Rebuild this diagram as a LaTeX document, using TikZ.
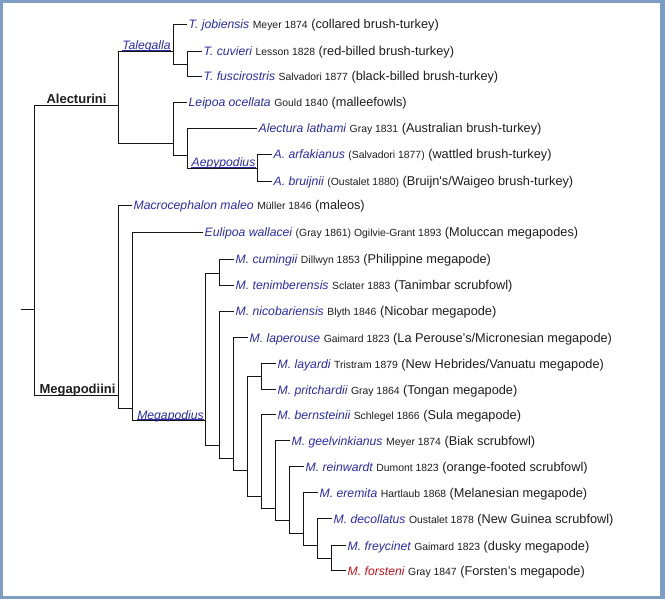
\documentclass[tikz,border=0pt]{standalone}
\usepackage{fontspec}
\setmainfont{Liberation Sans}
\definecolor{framecol}{RGB}{125,157,194}
\definecolor{spblue}{RGB}{45,45,160}
\definecolor{spred}{RGB}{195,20,30}
\definecolor{txt}{RGB}{30,30,30}
\definecolor{linecol}{RGB}{20,20,20}
\newcommand\spn[1]{{\color{spblue}\fontsize{12.2}{15}\selectfont\itshape #1}}
\newcommand\spr[1]{{\color{spred}\fontsize{12.2}{15}\selectfont\itshape #1}}
\newcommand\aut[1]{{\fontsize{10.4}{12}\selectfont #1}}
\tikzset{
  branch/.style={draw=linecol, line width=1pt},
  leaf/.style={anchor=base west, inner sep=0pt, xshift=2pt, yshift=-4.5pt,
    font=\fontsize{12.75}{15}\selectfont, text=txt},
  tribe/.style={anchor=base, inner sep=0pt, font=\fontsize{13}{15}\selectfont\bfseries, text=txt},
  clade/.style={anchor=base, inner sep=0pt, font=\fontsize{12.2}{15}\selectfont\itshape, text=spblue},
  uline/.style={draw=spblue, line width=0.8pt}
}
\begin{document}
\begin{tikzpicture}[x=1pt,y=-1pt]
\useasboundingbox (0,0) rectangle (665,599);
\fill[framecol] (0,0) rectangle (665,599);
\fill[white] (3,3) rectangle (660,596);
\begin{scope}[shift={(0.5,0.5)}]
% internal junctions
\coordinate (stub) at (20,309);
\coordinate (R) at (34,309);
\coordinate (A) at (118,105);
\coordinate (T) at (173,51);
\coordinate (TC) at (187,64);
\coordinate (L) at (173,143);
\coordinate (AL) at (187,155);
\coordinate (Aep) at (257,168);
\coordinate (M) at (118,395);
\coordinate (N2) at (132,408);
\coordinate (Mg) at (205,420);
\coordinate (C1) at (219,273);
\coordinate (N3) at (219,445);
\coordinate (N4) at (233,458);
\coordinate (N5) at (247,470);
\coordinate (LP) at (261,376);
\coordinate (N6) at (261,496);
\coordinate (N7) at (275,508);
\coordinate (N8) at (289,520);
\coordinate (N9) at (303,533);
\coordinate (N10) at (317,545);
\coordinate (N11) at (331,558);
% tips
\coordinate (t1) at (186,24);
\coordinate (t2) at (201,51);
\coordinate (t3) at (201,76);
\coordinate (t4) at (186,102);
\coordinate (t5) at (256,128);
\coordinate (t6) at (271,154);
\coordinate (t7) at (271,181);
\coordinate (t8) at (131,205);
\coordinate (t9) at (202,232);
\coordinate (t10) at (233,259);
\coordinate (t11) at (233,285);
\coordinate (t12) at (233,311);
\coordinate (t13) at (247,337);
\coordinate (t14) at (275,363);
\coordinate (t15) at (275,389);
\coordinate (t16) at (275,414);
\coordinate (t17) at (289,440);
\coordinate (t18) at (303,466);
\coordinate (t19) at (317,492);
\coordinate (t20) at (331,518);
\coordinate (t21) at (345,545);
\coordinate (t22) at (345,570);
% branches
\draw[branch] (stub) -- (R);
\draw[branch] (R) |- (A);
\draw[branch] (R) |- (M);
\draw[branch] (A) |- (T);
\draw[branch] (A) |- (L);
\draw[branch] (T) |- (t1);
\draw[branch] (T) |- (TC);
\draw[branch] (TC) |- (t2);
\draw[branch] (TC) |- (t3);
\draw[branch] (L) |- (t4);
\draw[branch] (L) |- (AL);
\draw[branch] (AL) |- (t5);
\draw[branch] (AL) |- (Aep);
\draw[branch] (Aep) |- (t6);
\draw[branch] (Aep) |- (t7);
\draw[branch] (M) |- (t8);
\draw[branch] (M) |- (N2);
\draw[branch] (N2) |- (t9);
\draw[branch] (N2) |- (Mg);
\draw[branch] (Mg) |- (C1);
\draw[branch] (Mg) |- (N3);
\draw[branch] (C1) |- (t10);
\draw[branch] (C1) |- (t11);
\draw[branch] (N3) |- (t12);
\draw[branch] (N3) |- (N4);
\draw[branch] (N4) |- (t13);
\draw[branch] (N4) |- (N5);
\draw[branch] (N5) |- (LP);
\draw[branch] (N5) |- (N6);
\draw[branch] (LP) |- (t14);
\draw[branch] (LP) |- (t15);
\draw[branch] (N6) |- (t16);
\draw[branch] (N6) |- (N7);
\draw[branch] (N7) |- (t17);
\draw[branch] (N7) |- (N8);
\draw[branch] (N8) |- (t18);
\draw[branch] (N8) |- (N9);
\draw[branch] (N9) |- (t19);
\draw[branch] (N9) |- (N10);
\draw[branch] (N10) |- (t20);
\draw[branch] (N10) |- (N11);
\draw[branch] (N11) |- (t21);
\draw[branch] (N11) |- (t22);
% group labels
\node[tribe] (alec) at (76,103) {Alecturini};
\node[tribe] (mega) at (77,393) {Megapodiini};
\node[clade] (tal) at (146,49.5) {Talegalla};
\node[clade] (aep) at (223,166.5) {Aepypodius};
\node[clade] (meg) at (170,418.5) {Megapodius};
\foreach \n in {tal,aep,meg}
  \draw[uline] ([yshift=-0.8pt]\n.base west) -- ([yshift=-0.8pt]\n.base east);
% leaves
\node[leaf] (l1) at (t1) {\spn{T. jobiensis} \aut{Meyer 1874} (collared brush-turkey)};
\node[leaf] (l2) at (t2) {\spn{T. cuvieri} \aut{Lesson 1828} (red-billed brush-turkey)};
\node[leaf] (l3) at (t3) {\spn{T. fuscirostris} \aut{Salvadori 1877} (black-billed brush-turkey)};
\node[leaf] (l4) at (t4) {\spn{Leipoa ocellata} \aut{Gould 1840} (malleefowls)};
\node[leaf] (l5) at (t5) {\spn{Alectura lathami} \aut{Gray 1831} (Australian brush-turkey)};
\node[leaf] (l6) at (t6) {\spn{A. arfakianus} \aut{(Salvadori 1877)} (wattled brush-turkey)};
\node[leaf] (l7) at (t7) {\spn{A. bruijnii} \aut{(Oustalet 1880)} (Bruijn\textquotesingle s/Waigeo brush-turkey)};
\node[leaf] (l8) at (t8) {\spn{Macrocephalon maleo} \aut{Müller 1846} (maleos)};
\node[leaf] (l9) at (t9) {\spn{Eulipoa wallacei} \aut{(Gray 1861) Ogilvie-Grant 1893} (Moluccan megapodes)};
\node[leaf] (l10) at (t10) {\spn{M. cumingii} \aut{Dillwyn 1853} (Philippine megapode)};
\node[leaf] (l11) at (t11) {\spn{M. tenimberensis} \aut{Sclater 1883} (Tanimbar scrubfowl)};
\node[leaf] (l12) at (t12) {\spn{M. nicobariensis} \aut{Blyth 1846} (Nicobar megapode)};
\node[leaf] (l13) at (t13) {\spn{M. laperouse} \aut{Gaimard 1823} (La Perouse’s/Micronesian megapode)};
\node[leaf] (l14) at (t14) {\spn{M. layardi} \aut{Tristram 1879} (New Hebrides/Vanuatu megapode)};
\node[leaf] (l15) at (t15) {\spn{M. pritchardii} \aut{Gray 1864} (Tongan megapode)};
\node[leaf] (l16) at (t16) {\spn{M. bernsteinii} \aut{Schlegel 1866} (Sula megapode)};
\node[leaf] (l17) at (t17) {\spn{M. geelvinkianus} \aut{Meyer 1874} (Biak scrubfowl)};
\node[leaf] (l18) at (t18) {\spn{M. reinwardt} \aut{Dumont 1823} (orange-footed scrubfowl)};
\node[leaf] (l19) at (t19) {\spn{M. eremita} \aut{Hartlaub 1868} (Melanesian megapode)};
\node[leaf] (l20) at (t20) {\spn{M. decollatus} \aut{Oustalet 1878} (New Guinea scrubfowl)};
\node[leaf] (l21) at (t21) {\spn{M. freycinet} \aut{Gaimard 1823} (dusky megapode)};
\node[leaf] (l22) at (t22) {\spr{M. forsteni} \aut{Gray 1847} (Forsten’s megapode)};
\end{scope}
\end{tikzpicture}
\end{document}
